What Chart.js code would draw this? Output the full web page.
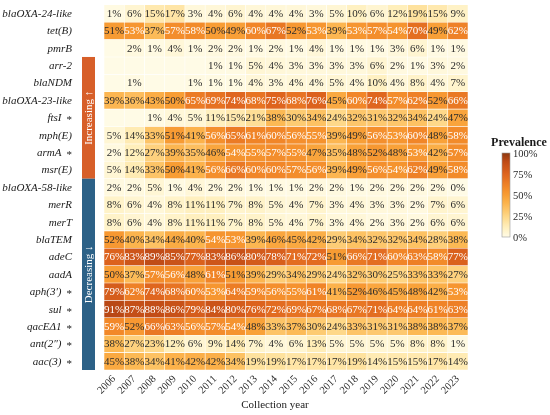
<!DOCTYPE html>
<html>
<head>
<meta charset="utf-8">
<script src="https://cdn.jsdelivr.net/npm/chart.js@4.4.1/dist/chart.umd.min.js"></script>
<style>
  html, body { margin: 0; padding: 0; background: #ffffff; }
</style>
</head>
<body>
<canvas id="heatChart" width="550" height="415"></canvas>
<script>
// collection years (columns)
const years = ['2006', '2007', '2008', '2009', '2010', '2011', '2012', '2013', '2014',
               '2015', '2016', '2017', '2018', '2019', '2020', '2021', '2022', '2023'];

// genes (rows, top to bottom); a trailing " *" is drawn upright
const genes = ['blaOXA-24-like', 'tet(B)', 'pmrB', 'arr-2', 'blaNDM', 'blaOXA-23-like',
               'ftsI *', 'mph(E)', 'armA *', 'msr(E)', 'blaOXA-58-like', 'merR', 'merT',
               'blaTEM', 'adeC', 'aadA', 'aph(3′) *', 'sul *', 'qacEΔ1 *', 'ant(2″) *', 'aac(3) *'];

// prevalence (%) per gene, null = not detected that year
const blaOXA24like = [1, 6, 15, 17, 3, 4, 6, 4, 4, 4, 3, 5, 10, 6, 12, 19, 15, 9];
const tetB = [51, 53, 37, 57, 58, 50, 49, 60, 67, 52, 53, 39, 53, 57, 54, 70, 49, 62];
const pmrB = [null, 2, 1, 4, 1, 2, 2, 1, 2, 1, 4, 1, 1, 1, 3, 6, 1, 1];
const arr2 = [null, null, null, null, null, 1, 1, 5, 4, 3, 3, 3, 3, 6, 2, 1, 3, 2];
const blaNDM = [null, 1, null, null, 1, 1, 1, 4, 3, 4, 4, 5, 4, 10, 4, 8, 4, 7];
const blaOXA23like = [39, 36, 43, 50, 65, 69, 74, 68, 75, 68, 76, 45, 60, 74, 57, 62, 52, 66];
const ftsI = [null, null, 1, 4, 5, 11, 15, 21, 38, 30, 34, 24, 32, 31, 32, 34, 24, 47];
const mphE = [5, 14, 33, 51, 41, 56, 65, 61, 60, 56, 55, 39, 49, 56, 53, 60, 48, 58];
const armA = [2, 12, 27, 39, 35, 46, 54, 55, 57, 55, 47, 35, 48, 52, 48, 53, 42, 57];
const msrE = [5, 14, 33, 50, 41, 56, 66, 60, 60, 57, 56, 39, 49, 56, 54, 62, 49, 58];
const blaOXA58like = [2, 2, 5, 1, 4, 2, 2, 1, 1, 1, 2, 2, 1, 2, 2, 2, 2, 0];
const merR = [8, 6, 4, 8, 11, 11, 7, 8, 5, 4, 7, 3, 4, 3, 3, 2, 7, 6];
const merT = [8, 6, 4, 8, 11, 11, 7, 8, 5, 4, 7, 3, 4, 2, 3, 2, 6, 6];
const blaTEM = [52, 40, 34, 44, 40, 54, 53, 39, 46, 45, 42, 29, 34, 32, 32, 34, 28, 38];
const adeC = [76, 83, 89, 85, 77, 83, 86, 80, 78, 71, 72, 51, 66, 71, 60, 63, 58, 77];
const aadA = [50, 37, 57, 56, 48, 61, 51, 39, 29, 34, 29, 24, 32, 30, 25, 33, 33, 27];
const aph3 = [79, 62, 74, 68, 60, 53, 64, 59, 56, 55, 61, 41, 52, 46, 45, 48, 42, 53];
const sul = [91, 87, 88, 86, 79, 84, 80, 76, 72, 69, 67, 68, 67, 71, 64, 64, 61, 63];
const qacEdelta1 = [59, 52, 66, 63, 56, 57, 54, 48, 33, 37, 30, 24, 33, 31, 31, 38, 38, 37];
const ant2 = [38, 27, 23, 12, 6, 9, 14, 7, 4, 6, 13, 5, 5, 5, 5, 8, 8, 1];
const aac3 = [45, 38, 34, 41, 42, 42, 34, 19, 19, 17, 17, 17, 19, 14, 15, 15, 17, 14];

const rows = [blaOXA24like, tetB, pmrB, arr2, blaNDM, blaOXA23like, ftsI, mphE, armA, msrE,
              blaOXA58like, merR, merT, blaTEM, adeC, aadA, aph3, sul, qacEdelta1, ant2, aac3];

// trend groups shown as side bars (first and last gene of each)
const increasingGenes = ['arr-2', 'msr(E)'];
const decreasingGenes = ['blaOXA-58-like', 'aac(3) *'];

// colour bar ticks
const legendTicks = [0, 25, 50, 75, 100];

const SERIF = '"Liberation Serif", "DejaVu Serif", serif';
const blankColor = '#fffbe6';

// colour ramp, cream -> orange -> brown
const stops = [
    [0, [255, 251, 230]],
    [0.12, [255, 239, 187]],
    [0.25, [254, 214, 133]],
    [0.4, [252, 180, 77]],
    [0.5, [248, 157, 52]],
    [0.6, [241, 134, 40]],
    [0.75, [222, 100, 30]],
    [0.9, [190, 74, 22]],
    [1, [140, 56, 16]]
];

function rampColor(v) {
    const t = Math.max(0, Math.min(1, v / 100));
    for (let k = 1; k < stops.length; k++) {
        if (t <= stops[k][0]) {
            const a = stops[k - 1], b = stops[k];
            const f = (t - a[0]) / (b[0] - a[0]);
            const c = a[1].map((x, n) => Math.round(x + (b[1][n] - x) * f));
            return `rgb(${c[0]}, ${c[1]}, ${c[2]})`;
        }
    }
    return 'rgb(140, 56, 16)';
}

// one floating-bar dataset per year column
const datasets = years.map((yr, j) => ({
    label: yr,
    values: rows.map(r => r[j]),
    data: rows.map(() => [j, j + 1]),
    backgroundColor: rows.map(r => r[j] === null ? blankColor : rampColor(r[j])),
    borderColor: 'rgba(255, 255, 255, 0.55)',
    borderWidth: 0.6,
    borderSkipped: false,
    grouped: false,
    categoryPercentage: 1,
    barPercentage: 1
}));

// percentage text inside each cell
const cellText = {
    id: 'cellText',
    afterDatasetsDraw(chart) {
        const ctx = chart.ctx;
        ctx.save();
        ctx.font = '11px ' + SERIF;
        ctx.textAlign = 'center';
        ctx.textBaseline = 'middle';
        chart.data.datasets.forEach((ds, j) => {
            chart.getDatasetMeta(j).data.forEach((bar, i) => {
                const v = ds.values[i];
                if (v === null) return;
                ctx.fillStyle = v >= 53 ? '#ffffff' : '#2b2b2b';
                ctx.fillText(v + '%', (bar.x + bar.base) / 2, bar.y + 0.5);
            });
        });
        ctx.restore();
    }
};

// gene names: italic, with an upright asterisk where marked
const geneLabels = {
    id: 'geneLabels',
    afterDraw(chart) {
        const ctx = chart.ctx;
        const y = chart.scales.y;
        const right = chart.chartArea.left - 32;
        ctx.save();
        ctx.fillStyle = '#1a1a1a';
        ctx.textBaseline = 'middle';
        ctx.textAlign = 'right';
        genes.forEach((g, i) => {
            const py = y.getPixelForValue(i) + 0.5;
            let name = g;
            let x = right;
            if (g.endsWith(' *')) {
                name = g.slice(0, -2);
                ctx.font = '11px ' + SERIF;
                ctx.fillText('*', x, py + 2);
                x -= ctx.measureText('*').width + 5;
            }
            ctx.font = 'italic 11px ' + SERIF;
            ctx.fillText(name, x, py);
        });
        ctx.restore();
    }
};

// "Increasing" / "Decreasing" side bars
const trendBars = {
    id: 'trendBars',
    afterDraw(chart) {
        const ctx = chart.ctx;
        const y = chart.scales.y;
        const half = (y.getPixelForValue(1) - y.getPixelForValue(0)) / 2;
        const x0 = chart.chartArea.left - 22;
        const w = 13;
        const groups = [
            { names: increasingGenes, text: 'Increasing ↑', color: '#d75f29' },
            { names: decreasingGenes, text: 'Decreasing ↓', color: '#2c6187' }
        ];
        groups.forEach(g => {
            const top = y.getPixelForValue(genes.indexOf(g.names[0])) - half;
            const bottom = y.getPixelForValue(genes.indexOf(g.names[1])) + half;
            ctx.save();
            ctx.fillStyle = g.color;
            ctx.fillRect(x0, top, w, bottom - top);
            ctx.translate(x0 + w / 2, (top + bottom) / 2);
            ctx.rotate(-Math.PI / 2);
            ctx.fillStyle = '#ffffff';
            ctx.font = '11px ' + SERIF;
            ctx.textAlign = 'center';
            ctx.textBaseline = 'middle';
            ctx.fillText(g.text, 0, 0.5);
            ctx.restore();
        });
    }
};

// x-axis title, sits a little left of the heatmap centre
const xTitle = {
    id: 'xTitle',
    afterDraw(chart) {
        const ctx = chart.ctx;
        const area = chart.chartArea;
        ctx.save();
        ctx.fillStyle = '#1a1a1a';
        ctx.font = '11px ' + SERIF;
        ctx.textAlign = 'center';
        ctx.textBaseline = 'middle';
        ctx.fillText('Collection year', (area.left + area.right) / 2 - 11, chart.height - 10);
        ctx.restore();
    }
};

// colour bar legend on the right
const colorLegend = {
    id: 'colorLegend',
    afterDraw(chart) {
        const ctx = chart.ctx;
        const area = chart.chartArea;
        const left = area.right + 34, width = 8;
        const top = 153, bottom = 237;
        ctx.save();
        const grad = ctx.createLinearGradient(0, bottom, 0, top);
        for (let k = 0; k <= 20; k++) grad.addColorStop(k / 20, rampColor(k * 5));
        ctx.fillStyle = grad;
        ctx.fillRect(left, top, width, bottom - top);
        ctx.strokeStyle = '#9a9a9a';
        ctx.lineWidth = 0.6;
        ctx.strokeRect(left, top, width, bottom - top);

        ctx.fillStyle = '#1a1a1a';
        ctx.font = 'bold 12px ' + SERIF;
        ctx.textAlign = 'center';
        ctx.textBaseline = 'middle';
        ctx.fillText('Prevalence', left + 17, 143);

        ctx.font = '10.5px ' + SERIF;
        ctx.textAlign = 'left';
        ctx.fillStyle = '#2b2b2b';
        legendTicks.forEach(t => {
            const py = bottom - (t / 100) * (bottom - top);
            ctx.fillText(t + '%', left + width + 3, py + 1);
        });
        ctx.restore();
    }
};

const ctx = document.getElementById('heatChart').getContext('2d');
const heatChart = new Chart(ctx, {
    type: 'bar',
    data: {
        labels: genes,
        datasets: datasets
    },
    options: {
        indexAxis: 'y',
        responsive: false,
        maintainAspectRatio: false,
        animation: false,
        layout: {
            padding: { top: 4.8, right: 82, left: 0, bottom: 0 }
        },
        plugins: {
            legend: { display: false },
            tooltip: { enabled: false }
        },
        scales: {
            x: {
                type: 'linear',
                min: 0,
                max: years.length,
                display: false
            },
            yr: {
                type: 'category',
                axis: 'x',
                position: 'bottom',
                labels: years,
                offset: true,
                grid: { display: false, drawTicks: false },
                border: { display: false },
                ticks: {
                    autoSkip: false,
                    minRotation: 45,
                    maxRotation: 45,
                    padding: 3,
                    color: '#2b2b2b',
                    font: { family: SERIF, size: 10.5 }
                },
                afterFit: scale => { scale.height = 45; }
            },
            y: {
                type: 'category',
                offset: true,
                grid: { display: false, drawTicks: false },
                border: { display: false },
                ticks: { display: false },
                afterFit: scale => { scale.width = 104; }
            }
        }
    },
    plugins: [cellText, geneLabels, trendBars, xTitle, colorLegend]
});
</script>
</body>
</html>
